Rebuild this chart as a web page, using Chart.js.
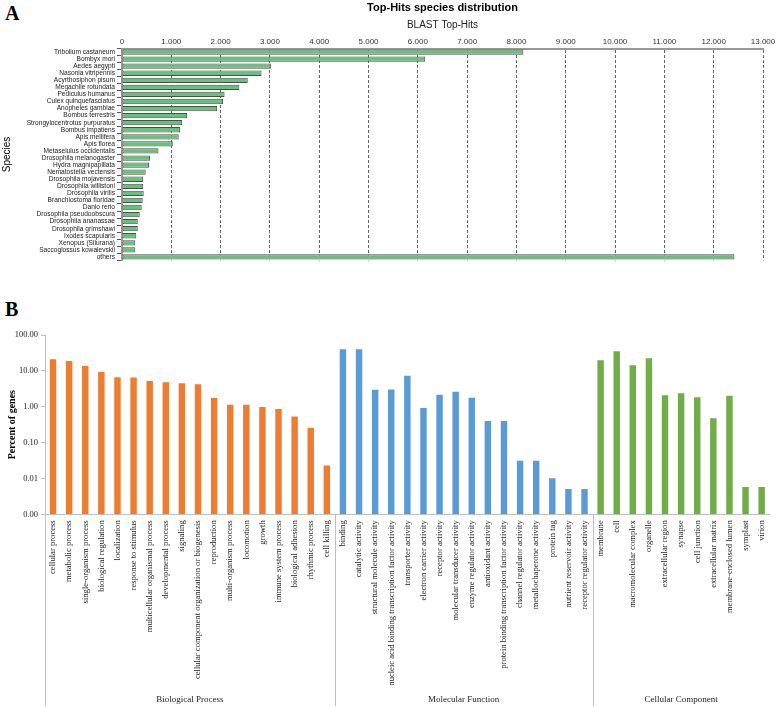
<!DOCTYPE html>
<html>
<head>
<meta charset="utf-8">
<script src="https://cdn.jsdelivr.net/npm/chart.js@4.4.1/dist/chart.umd.min.js"></script>
<style>
  body { margin: 0; background: #fff; }
  #wrap { position: relative; width: 778px; height: 708px; }
  canvas { position: absolute; left: 0; }
  .panel { position: absolute; left: 5px; font: bold 20px "Liberation Serif", serif; line-height: 20px; color: #000; }
</style>
</head>
<body>
<div id="wrap">
  <div class="panel" style="top:3px">A</div>
  <div class="panel" style="top:299px">B</div>
  <canvas id="hits" width="778" height="270" style="top:0"></canvas>
  <canvas id="go" width="778" height="438" style="top:270px"></canvas>
</div>
<script>
// panel A - BLAST top hits
var species = ['Tribolium castaneum', 'Bombyx mori', 'Aedes aegypti', 'Nasonia vitripennis',
  'Acyrthosiphon pisum', 'Megachile rotundata', 'Pediculus humanus', 'Culex quinquefasciatus',
  'Anopheles gambiae', 'Bombus terrestris', 'Strongylocentrotus purpuratus', 'Bombus impatiens',
  'Apis mellifera', 'Apis florea', 'Metaseiulus occidentalis', 'Drosophila melanogaster',
  'Hydra magnipapillata', 'Nematostella vectensis', 'Drosophila mojavensis', 'Drosophila willistoni',
  'Drosophila virilis', 'Branchiostoma floridae', 'Danio rerio', 'Drosophila pseudoobscura',
  'Drosophila ananassae', 'Drosophila grimshawi', 'Ixodes scapularis', 'Xenopus (Silurana)',
  'Saccoglossus kowalevskii', 'others'];
var hits = [8140, 6150, 3020, 2830, 2550, 2380, 2080, 2050, 1930, 1320, 1220, 1180, 1150, 1030,
  740, 570, 550, 480, 430, 430, 440, 420, 400, 360, 320, 320, 290, 270, 270, 12420];

// panel B - GO categories (percent of genes)
var bpLabels = ['cellular process', 'metabolic process', 'single-organism process', 'biological regulation',
  'localization', 'response to stimulus', 'multicellular organismal process', 'developmental process',
  'signaling', 'cellular component organization or biogenesis', 'reproduction', 'multi-organism process',
  'locomotion', 'growth', 'immune system process', 'biological adhesion', 'rhythmic process', 'cell killing'];
var bpValues = [21, 18.8, 13.7, 9.3, 6.6, 6.5, 5.2, 4.8, 4.5, 4.2, 1.75, 1.14, 1.14, 0.98, 0.86, 0.53, 0.26, 0.023];
var mfLabels = ['binding', 'catalytic activity', 'structural molecule activity',
  'nucleic acid binding transcription factor activity', 'transporter activity', 'electron carrier activity',
  'receptor activity', 'molecular transducer activity', 'enzyme regulator activity', 'antioxidant activity',
  'protein binding transcription factor activity', 'channel regulator activity', 'metallochaperone activity',
  'protein tag', 'nutrient reservoir activity', 'receptor regulator activity'];
var mfValues = [40, 40, 2.98, 3.0, 7.3, 0.92, 2.16, 2.62, 1.79, 0.40, 0.40, 0.031, 0.031, 0.0101, 0.0051, 0.0051];
var ccLabels = ['membrane', 'cell', 'macromolecular complex', 'organelle', 'extracellular region', 'synapse',
  'cell junction', 'extracellular matrix', 'membrane-enclosed lumen', 'symplast', 'virion'];
var ccValues = [19.7, 35, 14.3, 22.4, 2.08, 2.37, 1.83, 0.48, 2.03, 0.0058, 0.0058];
var groupNames = ['Biological Process', 'Molecular Function', 'Cellular Component'];
var groupColors = ['#ED7D31', '#5B9BD5', '#70AD47'];
var logTicks = [0.001, 0.01, 0.1, 1, 10, 100];

new Chart(document.getElementById('hits'), {
  type: 'bar',
  data: {
    labels: species,
    datasets: [{
      data: hits,
      backgroundColor: '#69c07c',
      borderColor: '#4d4d4d',
      borderWidth: 1,
      borderSkipped: false,
      barPercentage: 0.75,
      categoryPercentage: 1
    }]
  },
  options: {
    indexAxis: 'y',
    responsive: false,
    animation: false,
    layout: { padding: { left: 0, right: 15, top: 0, bottom: 9.5 } },
    plugins: {
      legend: { display: false },
      tooltip: { enabled: false },
      title: {
        display: true, fullSize: false, text: 'Top-Hits species distribution', color: '#000',
        font: { family: 'Liberation Sans', size: 11, weight: 'bold' },
        padding: { top: 1, bottom: 4 }
      },
      subtitle: {
        display: true, fullSize: false, text: 'BLAST Top-Hits', color: '#222',
        font: { family: 'Liberation Sans', size: 10 },
        padding: { top: 1, bottom: 2 }
      }
    },
    scales: {
      x: {
        position: 'top', min: 0, max: 13000,
        afterFit: function(s) { s.height = 15.3; },
        ticks: {
          stepSize: 1000, padding: 2, color: '#333',
          font: { family: 'Liberation Sans', size: 8 },
          callback: function(v) { return v === 0 ? '0' : (v / 1000) + '.000'; }
        },
        grid: { color: '#666', drawTicks: false, lineWidth: 1 },
        border: { color: '#999', width: 2, dash: [3, 2] }
      },
      y: {
        afterFit: function(s) { s.width = 122; },
        ticks: { autoSkip: false, padding: 2, color: '#222', font: { family: 'Liberation Sans', size: 6.6 } },
        grid: { drawOnChartArea: false, tickLength: 5, color: '#555' },
        border: { color: '#999', width: 2 },
        title: {
          display: true, text: 'Species', color: '#000',
          font: { family: 'Liberation Sans', size: 10 }, padding: { top: 1.5, bottom: 0 }
        }
      }
    }
  }
});

var goLabels = bpLabels.concat(mfLabels, ccLabels);
var goValues = bpValues.concat(mfValues, ccValues);
var groupSizes = [bpLabels.length, mfLabels.length, ccLabels.length];
var goColors = [];
groupSizes.forEach(function(n, g) { for (var i = 0; i < n; i++) goColors.push(groupColors[g]); });

var groupPlugin = {
  id: 'groups',
  afterDraw: function(chart) {
    var ctx = chart.ctx, xs = chart.scales.x, area = chart.chartArea;
    var half = (xs.getPixelForValue(1) - xs.getPixelForValue(0)) / 2;
    var start = 0;
    ctx.save();
    ctx.strokeStyle = '#bfbfbf';
    ctx.lineWidth = 1;
    ctx.fillStyle = '#222';
    ctx.font = '9px "Liberation Serif"';
    ctx.textAlign = 'center';
    ctx.textBaseline = 'middle';
    groupSizes.forEach(function(n, g) {
      var x0 = xs.getPixelForValue(start) - half;
      var x1 = xs.getPixelForValue(start + n - 1) + half;
      ctx.beginPath();
      ctx.moveTo(Math.round(x0) + 0.5, area.bottom);
      ctx.lineTo(Math.round(x0) + 0.5, chart.height - 2);
      ctx.stroke();
      ctx.fillText(groupNames[g], (x0 + x1) / 2, chart.height - 8);
      start += n;
    });
    ctx.restore();
  }
};

new Chart(document.getElementById('go'), {
  type: 'bar',
  data: {
    labels: goLabels,
    datasets: [{
      data: goValues,
      backgroundColor: goColors,
      borderWidth: 0,
      barPercentage: 0.4,
      categoryPercentage: 1
    }]
  },
  options: {
    responsive: false,
    animation: false,
    layout: { padding: { left: 0, right: 2, top: 65, bottom: 0 } },
    plugins: { legend: { display: false }, tooltip: { enabled: false } },
    scales: {
      x: {
        afterFit: function(s) { s.height = 193.7; },
        ticks: {
          autoSkip: false, maxRotation: 90, minRotation: 90, padding: 6, color: '#222',
          font: { family: 'Liberation Serif', size: 8.6 }
        },
        grid: { display: false, drawTicks: false },
        border: { color: '#bfbfbf', width: 1 }
      },
      y: {
        type: 'logarithmic', min: 0.001, max: 100,
        afterFit: function(s) { s.width = 45; },
        afterBuildTicks: function(s) { s.ticks = logTicks.map(function(v) { return { value: v }; }); },
        ticks: {
          padding: 3, color: '#222', font: { family: 'Liberation Serif', size: 8.5 },
          callback: function(v) { return Number(v).toFixed(2); }
        },
        grid: { drawOnChartArea: false, tickLength: 4, color: '#bfbfbf' },
        border: { color: '#bfbfbf', width: 1 },
        title: {
          display: true, text: 'Percent of genes', color: '#000',
          font: { family: 'Liberation Serif', size: 10, weight: 'bold' }, padding: { top: 6, bottom: 0 }
        }
      }
    }
  },
  plugins: [groupPlugin]
});
</script>
</body>
</html>
